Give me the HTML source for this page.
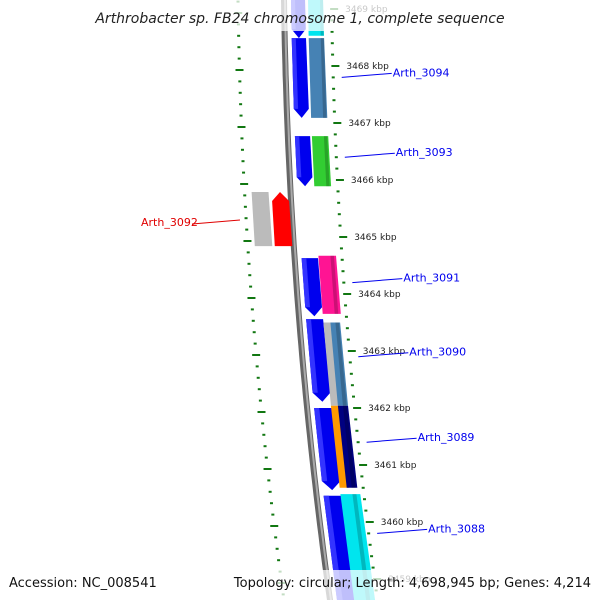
<!DOCTYPE html>
<html><head><meta charset="utf-8"><style>
body{margin:0;background:#fff}
svg{display:block;font-family:"DejaVu Sans","Liberation Sans",sans-serif}
</style></head><body>
<svg id="map" width="600" height="600" viewBox="0 0 600 600">
<g id="g-left-ticks"></g>
<g id="g-backbone"></g>
<g id="g-genes"></g>
<g id="g-ticks"></g>
<g id="g-labels"></g>
<rect x="0" y="0" width="600" height="31" fill="#fff" opacity="0.75"/>
<text x="300" y="23" text-anchor="middle" font-size="14" font-style="italic" fill="#222">Arthrobacter sp. FB24 chromosome 1, complete sequence</text>
<rect x="0" y="570" width="600" height="30" fill="#fff" opacity="0.75"/>
<text x="9" y="587" font-size="13" fill="#111">Accession: NC_008541</text>
<text x="591" y="587" text-anchor="end" font-size="13" fill="#111">Topology: circular; Length: 4,698,945 bp; Genes: 4,214</text>
</svg>
<script>
// data (kbp)
const tickKbp=[3469,3468,3467,3466,3465,3464,3463,3462,3461,3460,3459];
const innerStart=[3469.4,3468.49,3466.77,3464.63,3463.56,3462.0,3460.46];
const innerEnd=[3468.49,3467.09,3465.89,3463.61,3462.11,3460.56,3458.4];
const cogStart=[3469.4,3468.49,3466.77,3464.67,3463.5,3462.04,3460.49];
const cogEnd=[3468.53,3467.09,3465.89,3463.65,3462.04,3460.6,3458.4];
const cogColorA=['#00e5ee','#4682b4','#32cd32','#ff1493','#bbbbbb','#ff9900','#00e5ee'];
const cogColorB=['#00e5ee','#4682b4','#32cd32','#ff1493','#4682b4','#000080','#00e5ee'];
const labelNames=['Arth_3094','Arth_3093','Arth_3091','Arth_3090','Arth_3089','Arth_3088'];
const labelKbp=[3467.8,3466.4,3464.2,3462.9,3461.4,3459.8];
const leftStart=[3465.79];const leftEnd=[3464.84];

const NS='http://www.w3.org/2000/svg';
const Y=k=>66+(3468-k)*57;
const off=y=>0.0142*y+1.04e-4*y*y;
const X=(r,y)=>r+off(y);
const sc=y=>1+y/1500;
function mk(tag,attrs,parent){const e=document.createElementNS(NS,tag);for(const a in attrs)e.setAttribute(a,attrs[a]);parent.appendChild(e);return e;}
const G=id=>document.getElementById(id);

// backbone
(function(){const g=G('g-backbone');let d1='',d2='';for(let y=-5;y<=605;y+=10){d1+=(y<0?'M':'L')+X(284,y).toFixed(1)+','+y+' ';}
const p=mk('path',{d:d1,fill:'none',stroke:'#666',"stroke-width":6},g);
const p2=mk('path',{d:d1,fill:'none',stroke:'#aaa',"stroke-width":2,transform:'translate(1,0)'},g);})();

function band(r,w,y0,y1,arrow,dir){ // dir: 1 arrow at bottom, -1 at top
 const pts=[];const ah=9;
 const a0=(arrow&&dir<0)?y0+ah:y0, a1=(arrow&&dir>0)?y1-ah:y1;
 pts.push([X(r,a0),a0]);
 if(arrow&&dir<0){pts.unshift([X(r+w*sc(y0)/2,y0),y0]);}
 pts.push([X(r+w*sc(a0),a0),a0]);
 if(arrow&&dir<0){pts.splice(1,0);}
 const right=[[X(r+w*sc(a1),a1),a1]];
 if(arrow&&dir>0)right.push([X(r+w*sc(y1)/2,y1),y1]);
 right.push([X(r,a1),a1]);
 let all=[];
 if(arrow&&dir<0){all=[[X(r,a0),a0],[X(r+w*sc(y0)/2,y0),y0],[X(r+w*sc(a0),a0),a0]];}
 else all=[[X(r,a0),a0],[X(r+w*sc(a0),a0),a0]];
 all=all.concat(right);
 return all.map(p=>p[0].toFixed(1)+','+p[1].toFixed(1)).join(' ');
}
const gg=G('g-genes');
innerStart.forEach((s,i)=>{const y0=Y(s),y1=Y(innerEnd[i]);
 const p=mk('polygon',{points:band(291,14,y0,y1,true,1),fill:'#0000ee'},gg);
 
 const h=mk('polygon',{points:band(291,4,y0,y1-9,false,1),fill:'#3333ff'},gg);
 });
cogStart.forEach((s,i)=>{const y0=Y(s),y1=Y(cogEnd[i]);
 const split=cogColorA[i]!==cogColorB[i];
 if(split){
  const a=mk('polygon',{points:band(308,7,y0,y1,false,1),fill:cogColorA[i]},gg);
  
  const b=mk('polygon',{points:band(315,8,y0,y1,false,1),fill:cogColorB[i]},gg);
  
 } else {
  const a=mk('polygon',{points:band(308,15,y0,y1,false,1),fill:cogColorA[i]},gg);
  
 }
 const e=mk('polygon',{points:band(308+12,3,y0,y1,false,1),fill:'#000',opacity:0.2},gg);
 });
leftStart.forEach((s,i)=>{const y0=Y(s),y1=Y(leftEnd[i]);
 const a=mk('polygon',{points:band(245,15,y0,y1,false,1),fill:'#bbbbbb'},gg);
 
 const b=mk('polygon',{points:band(265,15,y0,y1,true,-1),fill:'#ff0000'},gg);
 
 const t=mk('text',{x:141,y:Y(s)+34,"font-size":11,fill:'#e00000'},G('g-labels'));t.textContent='Arth_3092';
 
 const l=mk('line',{x1:192,y1:Y(s)+32,x2:240,y2:Y(s)+28,stroke:'#e00000'},G('g-labels'));
 });

// ticks
const gt=G('g-ticks'),gl=G('g-left-ticks');
for(let k=3469.8;k>=3458.2;k-=0.2){const kk=Math.round(k*5)/5;const y=Y(kk);const major=Math.abs(kk-Math.round(kk))<0.01;
 const x=X(330,y);
 const t=mk('line',{x1:x,y1:y,x2:x+(major?8:3),y2:y,stroke:'#117711',"stroke-width":2},gt);
 
 const yl=y+4;const xl=X(238,yl);
 const u=mk('line',{x1:xl-(major?4:1.5),y1:yl,x2:xl+(major?4:1.5),y2:yl,stroke:'#117711',"stroke-width":2},gl);
 }
tickKbp.forEach(k=>{const y=Y(k);const t=mk('text',{x:X(345,y),y:y+3,"font-size":9,fill:'#222'},gt);t.textContent=k+' kbp';
 });
labelNames.forEach((n,i)=>{const y=Y(labelKbp[i]);const x0=X(340,y);
 const l=mk('line',{x1:x0,y1:y,x2:x0+50,y2:y-4,stroke:'#0000ee'},G('g-labels'));
 
 const t=mk('text',{x:x0+51,y:y-1,"font-size":11,fill:'#0000ee'},G('g-labels'));t.textContent=n;
 });
</script>
</body></html>
